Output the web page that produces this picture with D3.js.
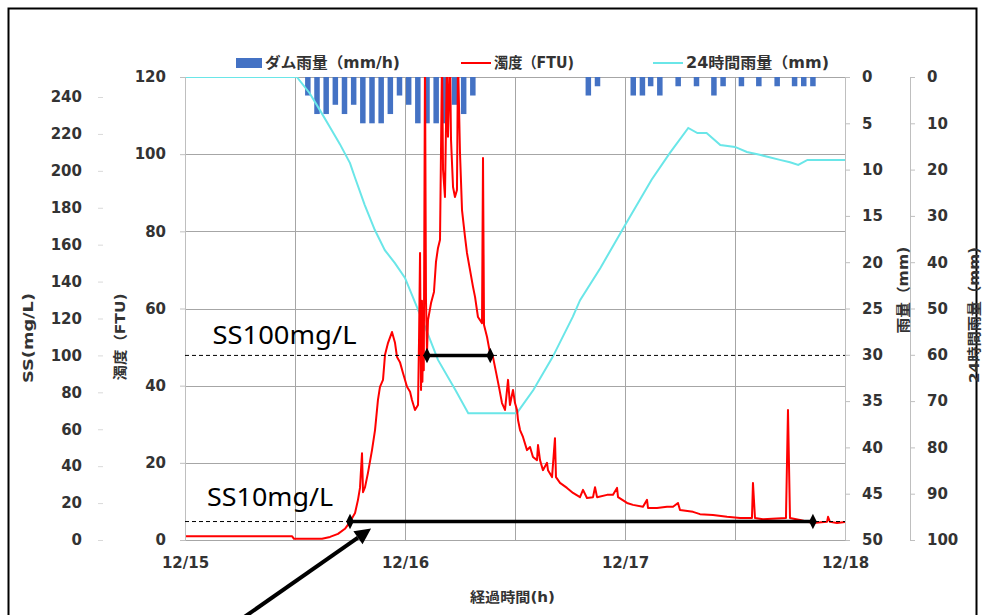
<!DOCTYPE html>
<html><head><meta charset="utf-8">
<script src="https://cdn.jsdelivr.net/npm/d3@7"></script>
<style>body{margin:0;background:#fff}svg{display:block}</style>
</head><body><svg id="c" width="982" height="615"></svg>
<script>
// ---------- data ----------
const timeTicks = [0, 24, 48, 72];
const timeLabels = ["12/15", "12/16", "12/17", "12/18"];
const gridHours = [12, 24, 36, 48, 60];
const ftuTicks = [0, 20, 40, 60, 80, 100, 120];
const ssTicks = [0, 20, 40, 60, 80, 100, 120, 140, 160, 180, 200, 220, 240];
const rainTicks = [0, 5, 10, 15, 20, 25, 30, 35, 40, 45, 50];
const rain24Ticks = [0, 10, 20, 30, 40, 50, 60, 70, 80, 90, 100];

// hourly dam rainfall (mm/h), elapsed hours from 12/15 0:00
const rainHours = [13.4,14.4,15.4,16.4,17.4,18.4,19.4,20.4,21.4,22.4,23.4,24.4,25.4,26.4,27.4,28.4,29.4,30.4,31.4,
                   44.0,45.0,48.9,49.9,50.8,51.8,53.8,55.8,57.7,58.7,60.7,62.6,64.6,66.5,67.5,68.5];
const rainMM    = [2,4,4,3,4,3,5,5,5,4,2,3,5,5,5,5,3,4,2,
                   2,1,2,2,1,2,1,1,2,1,1,1,1,1,1,1];

// turbidity (FTU)
const turbHours = [0,11.67,11.89,14.95,15.82,16.69,17.45,18.0,18.55,18.87,19.09,19.2,19.31,19.42,19.64,19.96,20.4,20.73,21.05,21.27,
  21.6,21.82,22.15,22.58,22.91,23.13,23.45,23.78,24.22,24.55,24.76,25.09,25.42,25.53,25.64,25.75,25.85,25.9,25.96,26.05,26.18,26.29,26.4,
  26.51,26.84,27.16,27.38,27.6,27.82,28.04,28.15,28.36,28.58,28.69,28.91,29.02,29.24,29.45,29.67,29.78,30.0,30.22,30.55,
  30.76,31.09,31.42,31.64,31.96,32.4,32.51,32.62,32.95,33.27,33.6,33.93,34.25,34.58,34.91,35.24,35.45,35.78,36.0,36.22,
  36.33,36.55,36.87,37.31,37.64,37.96,38.4,38.51,38.73,39.05,39.49,39.6,40.04,40.36,40.47,40.91,41.67,42.33,43.09,43.42,
  43.85,44.51,44.73,44.95,46.04,46.69,47.13,47.24,48.22,48.87,49.96,50.4,50.51,51.49,52.58,53.24,53.78,54.0,55.42,56.18,
  57.6,59.13,60.55,61.85,61.96,62.18,63.05,65.56,65.78,66.0,67.09,68.51,70.04,70.15,70.36,71.13,72];
const turbFTU = [1.0,1.0,0.3,0.3,0.8,1.6,2.9,4.7,7.0,10.4,13.5,18.1,22.5,12.4,13.7,17.4,23.3,28.5,36.3,39.7,
  41.5,48.0,51.1,53.9,51.1,47.4,46.1,43.3,39.7,38.4,36.3,33.7,35.0,51.8,74.4,38.9,62.0,41.0,50.5,44.0,125,62.2,48.5,
  57.0,61.4,64.3,72.1,75.7,77.8,125,95.9,88.9,125,104.5,125,103.7,91.5,88.9,90.7,125,100.3,85.5,78.5,
  74.4,70.0,65.6,63.0,57.8,56.2,99.0,55.7,52.6,48.5,47.4,43.5,39.7,35.5,33.7,41.5,35.0,38.9,35.5,33.7,
  31.1,28.5,26.7,23.3,24.1,21.5,20.7,24.6,20.7,18.1,20.0,18.1,16.3,26.4,16.3,14.8,13.5,12.2,11.1,13.0,
  10.9,11.1,13.7,11.1,11.7,11.7,13.5,11.1,9.6,9.1,8.6,10.4,8.3,8.3,8.6,8.6,9.6,7.8,7.3,6.7,
  6.5,6.0,5.7,5.7,14.8,5.7,5.4,5.7,33.7,5.7,5.2,4.4,4.7,6.0,4.7,4.4,4.7];

// 24-hour rainfall (mm)
const r24Hours = [0,12.2,13.6,14.7,15.8,16.9,18.0,18.5,19.6,20.7,21.8,22.9,24.0,26.2,27.6,29.5,30.9,36.2,38.0,40.1,42.3,43.1,
  45.3,48.0,50.9,52.9,54.9,55.9,56.9,58.4,60.0,61.3,62.7,64.9,66.0,66.9,67.9,72];
const r24MM = [0,0,3.5,7.1,10.8,14.5,18.6,21.5,27.6,33.0,37.4,40.2,43.4,54.0,61.1,67.6,72.6,72.6,67.6,60.5,51.8,48.2,
  41.3,32.0,22.2,16.4,11.0,12.1,12.1,14.7,15.1,16.2,16.8,17.9,18.4,19.0,17.9,17.9];

// SS threshold annotations
const ssLevels = [100, 10];
const ssLabels = ["SS100mg/L", "SS10mg/L"];
const ssFrom = [26.4, 18.0];
const ssTo = [33.3, 68.5];

// ---------- chart ----------
const svg = d3.select("#c");
const L = 185, R = 845, T = 77, B = 540;
const x = d3.scaleLinear().domain([0, 72]).range([L, R]);
const yF = d3.scaleLinear().domain([0, 120]).range([B, T]);
const yS = d3.scaleLinear().domain([0, 240]).range([B, 97]);
const yR = d3.scaleLinear().domain([0, 50]).range([T, B]);
const y24 = d3.scaleLinear().domain([0, 100]).range([T, B]);

const font = "'DejaVu Sans','Noto Sans CJK JP',sans-serif";
const txt = "#333333";

// border
svg.append("path").attr("d", "M8.5,615 V8.5 H976.5 V615").attr("fill","none").attr("stroke","#000").attr("stroke-width",2);

svg.append("defs").append("clipPath").attr("id","pc").append("rect")
  .attr("x", L).attr("y", T).attr("width", R - L).attr("height", B - T);

// gridlines
const grid = svg.append("g").attr("stroke", "#a6a6a6").attr("stroke-width", 1);
ftuTicks.filter(d => d > 0).forEach(d => grid.append("line")
  .attr("x1", L).attr("x2", R).attr("y1", Math.round(yF(d)) + 0.5).attr("y2", Math.round(yF(d)) + 0.5));
gridHours.forEach(h => grid.append("line")
  .attr("x1", Math.round(x(h)) + 0.5).attr("x2", Math.round(x(h)) + 0.5).attr("y1", T).attr("y2", B));

const plot = svg.append("g").attr("clip-path", "url(#pc)");

// rain bars
plot.selectAll("rect.bar").data(rainHours).join("rect")
  .attr("class","bar")
  .attr("x", d => x(d - 0.3)).attr("width", x(0.6) - x(0))
  .attr("y", yR(0)).attr("height", (d, i) => yR(rainMM[i]) - yR(0))
  .attr("fill", "#4472c4");

// 24h rain line
plot.append("path").datum(r24Hours)
  .attr("d", d3.line().x(d => x(d)).y((d, i) => y24(r24MM[i])))
  .attr("fill","none").attr("stroke","#6ae6e8").attr("stroke-width",2);

// turbidity line
plot.append("path").datum(turbHours)
  .attr("d", d3.line().x(d => x(d)).y((d, i) => yF(turbFTU[i])))
  .attr("fill","none").attr("stroke","#ff0000").attr("stroke-width",2).attr("stroke-linejoin","round");

// axes
function styleAxis(g) {
  g.select(".domain").attr("stroke", "#bfbfbf");
  g.selectAll(".tick line").attr("stroke", "#bfbfbf");
  g.selectAll(".tick text").attr("fill", txt).style("font-family", font).style("font-weight", "bold").style("font-size", "15px");
}
svg.append("g").attr("transform", `translate(${L},0)`)
  .call(d3.axisLeft(yF).tickValues(ftuTicks).tickSize(5).tickPadding(14)).call(styleAxis);
const gS = svg.append("g").attr("transform", `translate(103,0)`)
  .call(d3.axisLeft(yS).tickValues(ssTicks).tickSize(5).tickPadding(16)).call(styleAxis);
gS.select(".domain").remove();
gS.selectAll(".tick line").attr("stroke", "#d9d9d9");
svg.append("g").attr("transform", `translate(${R},0)`)
  .call(d3.axisRight(yR).tickValues(rainTicks).tickSize(5).tickPadding(12)).call(styleAxis);
svg.append("g").attr("transform", `translate(910,0)`)
  .call(d3.axisRight(y24).tickValues(rain24Ticks).tickSize(5).tickPadding(12)).call(styleAxis);
const gx = svg.append("g").attr("transform", `translate(0,${B})`)
  .call(d3.axisBottom(x).tickValues(timeTicks).tickFormat((d, i) => timeLabels[i]).tickSize(0).tickPadding(17)).call(styleAxis);
gx.select(".domain").attr("stroke", "#a6a6a6");

// axis titles
function vtitle(tx, ty, s, len) {
  svg.append("text").attr("transform", `translate(${tx},${ty}) rotate(-90)`).attr("text-anchor","middle")
    .attr("dy","0.35em").attr("fill", txt).style("font-family", font).style("font-weight","bold").style("font-size","14px")
    .attr("textLength", len).attr("lengthAdjust", "spacingAndGlyphs").text(s);
}
vtitle(28, 338, "SS(mg/L)", 90);
vtitle(120, 337, "濁度（FTU)", 87);
vtitle(903, 290, "雨量（mm)", 87);
vtitle(974, 315, "24時間雨量（mm)", 136);
svg.append("text").attr("x", 470).attr("y", 597).attr("dy","0.35em")
  .attr("fill", txt).style("font-family", font).style("font-weight","bold").style("font-size","14px")
  .attr("textLength", 85).attr("lengthAdjust", "spacingAndGlyphs").text("経過時間(h)");

// legend
const lg = svg.append("g").style("font-family", font).style("font-weight","bold").style("font-size","15px").attr("fill", txt);
function legText(x0, s, len) {
  lg.append("text").attr("x", x0).attr("y", 63).attr("dy","0.35em")
    .attr("textLength", len).attr("lengthAdjust", "spacingAndGlyphs").text(s);
}
lg.append("rect").attr("x",236).attr("y",58).attr("width",26).attr("height",10).attr("fill","#4472c4");
legText(265, "ダム雨量（mm/h)", 135);
lg.append("line").attr("x1",461).attr("x2",491).attr("y1",63).attr("y2",63).attr("stroke","#ff0000").attr("stroke-width",2);
legText(494, "濁度（FTU)", 80);
lg.append("line").attr("x1",653).attr("x2",683).attr("y1",63).attr("y2",63).attr("stroke","#6ae6e8").attr("stroke-width",2);
legText(686, "24時間雨量（mm)", 143);

// SS thresholds
ssLevels.forEach((lv, i) => {
  const yy = yS(lv);
  svg.append("line").attr("x1", L).attr("x2", R).attr("y1", yy).attr("y2", yy)
    .attr("stroke","#000").attr("stroke-width",1).attr("stroke-dasharray","4,3");
  svg.append("line").attr("x1", x(ssFrom[i])).attr("x2", x(ssTo[i])).attr("y1", yy).attr("y2", yy)
    .attr("stroke","#000").attr("stroke-width",3.5);
  [ssFrom[i], ssTo[i]].forEach(h => svg.append("path")
    .attr("d", d3.symbol(d3.symbolDiamond, 70)())
    .attr("transform", `translate(${x(h)},${yy}) scale(0.85,1)`).attr("fill","#000"));
  svg.append("text").attr("x", x(i === 0 ? 3.0 : 2.4)).attr("y", yy - (i === 0 ? 11 : 16))
    .style("font-family", "'Noto Sans',sans-serif").style("font-size","25px").attr("fill","#000")
    .attr("textLength", i === 0 ? 144 : 126).attr("lengthAdjust", "spacingAndGlyphs").text(ssLabels[i]);
});

// arrow annotation (tail below chart, tip at the SS10 crossing)
const tip = [x(20.3), yS(10) + 7], tail = [x(6.0), 620];
const ang = Math.atan2(tip[1] - tail[1], tip[0] - tail[0]);
const hl = 16, hw = 8;
const base = [tip[0] - hl * Math.cos(ang), tip[1] - hl * Math.sin(ang)];
svg.append("line").attr("x1", tail[0]).attr("y1", tail[1]).attr("x2", base[0]).attr("y2", base[1])
  .attr("stroke","#000").attr("stroke-width",4);
svg.append("path").attr("d", `M${tip[0]},${tip[1]} L${base[0] - hw * Math.sin(ang)},${base[1] + hw * Math.cos(ang)} L${base[0] + hw * Math.sin(ang)},${base[1] - hw * Math.cos(ang)} Z`)
  .attr("fill","#000");
</script></body></html>
